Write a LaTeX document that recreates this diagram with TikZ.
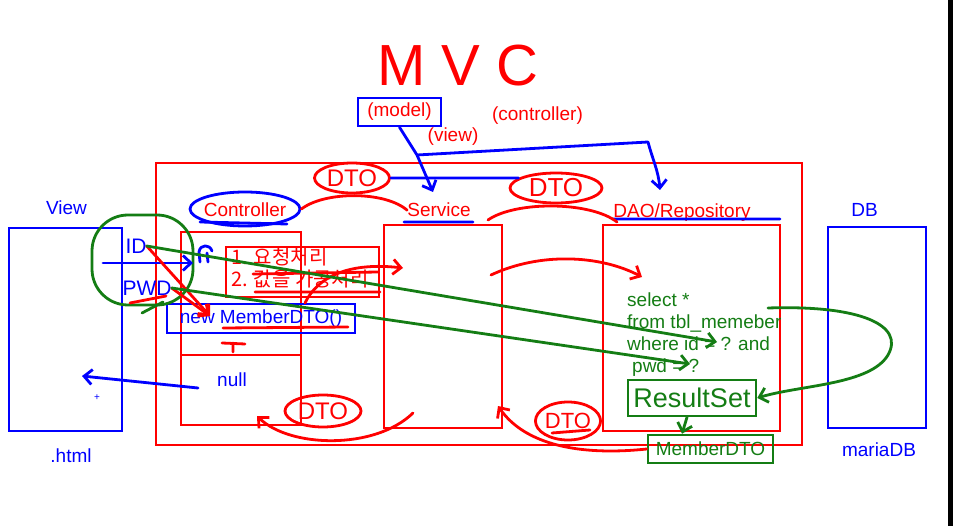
\documentclass[tikz,border=0pt]{standalone}
\usepackage{fontspec}
\setmainfont{Liberation Sans}
\newfontfamily\kofont{Noto Sans CJK KR}
\usetikzlibrary{arrows.meta,shapes.geometric,positioning,calc}
\definecolor{mred}{RGB}{255,0,0}
\definecolor{mblue}{RGB}{0,0,255}
\definecolor{mgreen}{RGB}{20,125,20}
\newcommand{\pxfont}[1]{\fontsize{#1}{#1}\selectfont}

\begin{document}
\begin{tikzpicture}[x=1pt, y=-1pt,
    box/.style={draw, line width=2.5pt, inner sep=0pt},
    lbl/.style={inner sep=0pt, anchor=base, font=\pxfont{19}},
    hand/.style={inner sep=0pt, font=\pxfont{21}},
    pen/.style={line width=2.8pt, line cap=round, line join=round},
    arr/.style={pen, -{Straight Barb[length=8pt, width=15pt]}},
    dto/.style={ellipse, draw=mred, pen, inner sep=0pt, text=mred, font=\pxfont{24}}
]
\useasboundingbox (0,0) rectangle (953,526);
\fill[white] (0,0) rectangle (953,526);
\fill[black] (948,0) rectangle (953,526);

\node[inner sep=0pt, text=mred, font=\pxfont{58}] (mvc) at (458,66) {M V C};
\node[box, draw=mblue, minimum width=83pt, minimum height=28pt, text=mred, font=\pxfont{19}] (model) at (399.5,112) {(model)};
\node[lbl, text=mred] (ctrlnote) at (537.5,121) {(controller)};
\node[lbl, text=mred] (viewnote) at (453,142) {(view)};

\node[box, draw=mred, minimum width=646pt, minimum height=282pt] (outer) at (479,304) {};
\node[box, draw=mred, minimum width=120pt, minimum height=193pt] (ctrl) at (241,328.5) {};
\node[box, draw=mred, minimum width=118pt, minimum height=203pt] (svc) at (443,326.5) {};
\node[box, draw=mred, minimum width=177pt, minimum height=206pt] (dao) at (691.5,328) {};
\node[box, draw=mblue, minimum width=113pt, minimum height=203pt] (view) at (65.5,329.5) {};
\node[box, draw=mblue, minimum width=98pt, minimum height=201pt] (db) at (877,327.5) {};
\node[box, draw=mred, minimum width=153pt, minimum height=50pt] (req) at (302.5,272) {};
\node[box, draw=mblue, minimum width=188pt, minimum height=29pt, text=mblue, font=\pxfont{19}] (newdto) at (261,318.5) {new MemberDTO()};
\node[box, draw=mgreen, minimum width=128pt, minimum height=36pt, text=mgreen, font=\pxfont{27}] (rs) at (692,398) {ResultSet};
\node[box, draw=mgreen, minimum width=125pt, minimum height=28pt, text=mgreen, font=\pxfont{19}] (mdto) at (710.5,449) {MemberDTO};
\draw[mred, line width=2.5pt] (ctrl.west |- 0,355) -- (ctrl.east |- 0,355);

\node[lbl, text=mblue] (viewlbl) at (66.5,215) {View};
\node[lbl, text=mblue] (html) at (71,462) {.html};
\node[lbl, text=mblue] (dblbl) at (864.5,217) {DB};
\node[lbl, text=mblue] (maria) at (879,456) {mariaDB};
\node[lbl, text=mred] (ctrllbl) at (245,217) {Controller};
\node[lbl, text=mred] (svclbl) at (439,217) {Service};
\node[lbl, text=mred] (daolbl) at (682,218) {DAO/Repository};
\node[inner sep=0pt, anchor=base west, align=left, text=mred, font=\kofont\fontsize{20}{22}\selectfont] (reqtxt) at (231,287) {1. 요청처리\\2. 값을 가공처리};
\node[inner sep=0pt, anchor=base west, align=left, text=mgreen, font=\fontsize{19}{22}\selectfont] (sql) at (627,373) {select *\\from tbl\_memeber\\where id = ? and\\\hspace{5pt}pwd = ?};

\node[ellipse, draw=mblue, pen, minimum width=110pt, minimum height=34pt] (ctrlell) at (245,209) {};
\node[draw=mgreen, pen, rounded corners=36pt, minimum width=101pt, minimum height=90pt] (idgrp) at (142.5,260) {};
\node[hand, text=mblue] (id) at (136,246) {ID};
\node[hand, text=mblue] (pwd) at (147,288) {PWD};
\node[hand, text=mblue, font=\pxfont{19}] (null) at (232,380) {null};
\node[inner sep=0pt, text=mblue, font=\pxfont{10}] (plus) at (97,398) {+};

\node[dto, minimum width=75pt, minimum height=30pt] (dto1) at (352,178) {DTO};
\node[dto, minimum width=92pt, minimum height=30pt, font=\pxfont{26}] (dto2) at (556,188) {DTO};
\node[dto, minimum width=76pt, minimum height=32pt] (dto3) at (323,411) {DTO};
\node[dto, minimum width=62pt, minimum height=38pt, font=\pxfont{22}] (dto4) at (568,421) {DTO};

\coordinate (mv) at (417,155);
\coordinate (svcin) at (433,192);
\coordinate (daoin) at (660,190);
\coordinate (nd) at (210,316);
\coordinate (vin) at (103,263);
\coordinate (vout) at (193,263);
\coordinate (idq) at (717,342);
\coordinate (pwq) at (690,364);
\coordinate (a1) at (488,220);
\coordinate (a2) at (617,222);
\coordinate (r0) at (305,303);
\coordinate (r1) at (403,268);
\coordinate (s0) at (491,275);
\coordinate (s1) at (642,277);
\coordinate (b0) at (413,413);
\coordinate (b1) at (257,416);
\coordinate (s2) at (498,406);
\coordinate (g0) at (768,308);
\coordinate (nullout) at (198,388);
\coordinate (viewpt) at (82,376);

\draw[arr, mblue] (model.south) -- (mv) -- (svcin);
\draw[arr, mblue] (mv) -- (648,142) to[out=-75, in=95] (daoin);
\draw[pen, mblue] (dto1.east) -- (dto2.165);
\draw[arr, mblue] (vin) -- (vout);
\draw[arr, mblue] (nullout) -- (viewpt);
\draw[pen, mblue] (200,222) -- (287,224) (404,222) -- (473,222) (613,219) -- (780,219);
\draw[pen, mblue] (200,262) -- (199,252) .. controls (200,244) and (210,244) .. (212,251) (207,253) -- (208,262);

\draw[pen, mred] (ctrlell.east) .. controls (325,191) and (385,191) .. (svclbl.west);
\draw[pen, mred] (a1) .. controls (515,201) and (590,201) .. (a2);
\draw[arr, mred] (id.east) -- (nd);
\draw[arr, mred] (pwd.east) -- (nd);
\draw[arr, mred] (r0) .. controls (318,276) and (350,262) .. (r1);
\draw[arr, mred] (s0) .. controls (540,252) and (600,255) .. (s1);
\draw[arr, mred] (b0) .. controls (375,450) and (290,448) .. (b1);
\draw[arr, mred] (mdto.west) .. controls (580,456) and (525,445) .. (s2);
\draw[pen, mred] (253,274) -- (378,272) (255,292) -- (380,292) (223,328) -- (348,327);
\draw[pen, mred] (222,343) -- (245,344) (233,343) -- (233,352);
\draw[pen, mred] (552,433) -- (590,430);
\draw[pen, mred] (130,303) -- (166,296);

\draw[arr, mgreen] (id.east) -- (idq);
\draw[arr, mgreen] (pwd.east) -- (pwq);
\draw[arr, mgreen] (g0) .. controls (860,305) and (905,325) .. (888,355) .. controls (870,385) and (800,385) .. (rs.east);
\draw[arr, mgreen] (rs.south -| 687,0) -- (mdto.north -| 682,0);
\draw[pen, mgreen] (142,313) -- (163,302);
\end{tikzpicture}
\end{document}
